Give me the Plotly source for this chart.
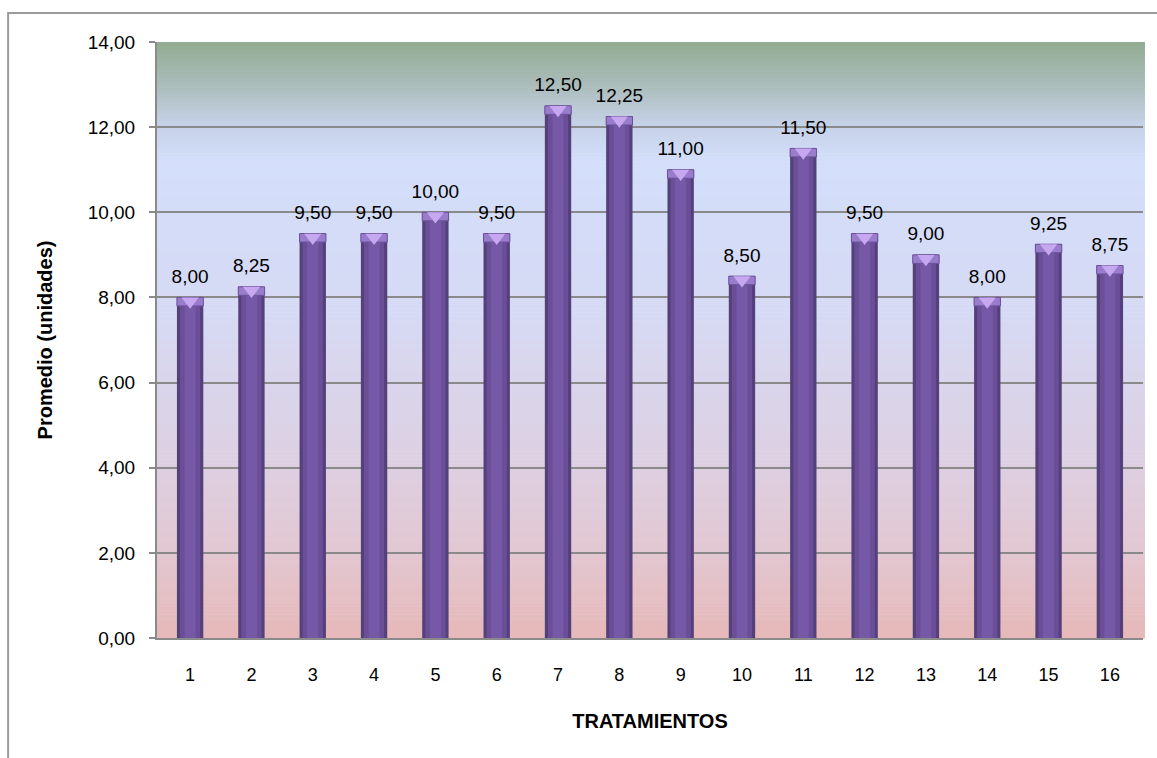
import plotly.graph_objects as go

# Promedio por tratamiento
tratamientos = [str(i) for i in range(1, 17)]
promedios = [8.00, 8.25, 9.50, 9.50, 10.00, 9.50, 12.50, 12.25,
             11.00, 8.50, 11.50, 9.50, 9.00, 8.00, 9.25, 8.75]
y_ticks = [0, 2, 4, 6, 8, 10, 12, 14]

FONT = "Liberation Sans, Arial, sans-serif"
GRID = "#8a8a8a"

# vertical background gradient (top -> bottom)
bg_stops = [
    (0.00, (146, 172, 146)),
    (0.07, (170, 188, 185)),
    (0.14, (198, 210, 232)),
    (0.20, (211, 222, 250)),
    (0.45, (214, 218, 244)),
    (0.70, (221, 208, 226)),
    (0.85, (226, 200, 210)),
    (1.00, (230, 184, 184)),
]


def bg_color(t):
    for (t0, c0), (t1, c1) in zip(bg_stops[:-1], bg_stops[1:]):
        if t0 <= t <= t1:
            f = (t - t0) / (t1 - t0) if t1 > t0 else 0
            c = [round(a + (b - a) * f) for a, b in zip(c0, c1)]
            return "rgb({},{},{})".format(*c)
    return "rgb({},{},{})".format(*bg_stops[-1][1])


shapes = []
N = 150
for i in range(N):
    t = (i + 0.5) / N
    shapes.append(dict(
        type="rect", xref="paper", yref="paper", layer="below",
        x0=0, x1=1.002, y0=1 - (i + 1) / N - 0.001, y1=1 - i / N,
        fillcolor=bg_color(t), line=dict(width=0),
    ))

# outer frame of the chart (runs past the right and bottom edges)
shapes.append(dict(
    type="rect", xref="paper", yref="paper", layer="above",
    x0=-0.151, x1=1.06, y0=-0.3, y1=1.0487,
    line=dict(color="#9a9a9a", width=2), fillcolor="rgba(0,0,0,0)",
))

fig = go.Figure()

# cylinder shading: dark rim, body, bright core
fig.add_trace(go.Bar(
    x=tratamientos, y=promedios, width=0.43,
    marker=dict(color="#54407a", line=dict(width=0)), hoverinfo="skip",
))
fig.add_trace(go.Bar(
    x=tratamientos, y=promedios, width=0.33,
    marker=dict(color="#6a4e98", line=dict(width=0)), hoverinfo="skip",
))
fig.add_trace(go.Bar(
    x=tratamientos, y=promedios, width=0.18,
    marker=dict(color="#7659a6", line=dict(width=0)), hoverinfo="skip",
))
# top caps
cap_h = 0.2
fig.add_trace(go.Bar(
    x=tratamientos, y=[cap_h] * len(promedios),
    base=[v - cap_h for v in promedios], width=0.43,
    marker=dict(color="#9a7ccc", line=dict(color="#6b519a", width=1)),
    hoverinfo="skip",
))
fig.add_trace(go.Scatter(
    x=tratamientos, y=[v - 0.09 for v in promedios], mode="markers",
    marker=dict(symbol="triangle-down", size=15, color="#c7a8f0",
                line=dict(width=0)),
    hoverinfo="skip", cliponaxis=False,
))
# value labels
fig.add_trace(go.Scatter(
    x=tratamientos, y=promedios, mode="markers+text",
    marker=dict(size=14, opacity=0),
    text=[f"{v:.2f}".replace(".", ",") for v in promedios],
    textposition="top center",
    textfont=dict(family=FONT, size=19, color="#000000"),
    hoverinfo="skip", cliponaxis=False,
))

fig.update_layout(
    width=1157, height=758,
    margin=dict(l=157, r=14, t=42, b=120),
    paper_bgcolor="#ffffff", plot_bgcolor="rgba(0,0,0,0)",
    barmode="overlay", showlegend=False,
    separators=",.",
    font=dict(family=FONT, color="#000000"),
    shapes=shapes,
    xaxis=dict(
        type="category", categoryorder="array", categoryarray=tratamientos,
        range=[-0.54, 15.54],
        showgrid=False, showline=True, linecolor=GRID, linewidth=2,
        ticks="", ticklabelstandoff=19,
        tickfont=dict(family=FONT, size=18),
        title=dict(text="<b>TRATAMIENTOS</b>", standoff=30,
                   font=dict(family=FONT, size=20)),
        zeroline=False,
    ),
    yaxis=dict(
        range=[0, 14], tickvals=y_ticks, tickformat=".2f",
        showgrid=True, gridcolor=GRID, gridwidth=2,
        showline=True, linecolor=GRID, linewidth=2,
        ticks="outside", ticklen=6, tickcolor=GRID, tickwidth=2,
        ticklabelstandoff=10,
        tickfont=dict(family=FONT, size=19),
        title=dict(text="<b>Promedio (unidades)</b>", standoff=30,
                   font=dict(family=FONT, size=20)),
        zeroline=False,
    ),
)

fig.write_html("out.html")
